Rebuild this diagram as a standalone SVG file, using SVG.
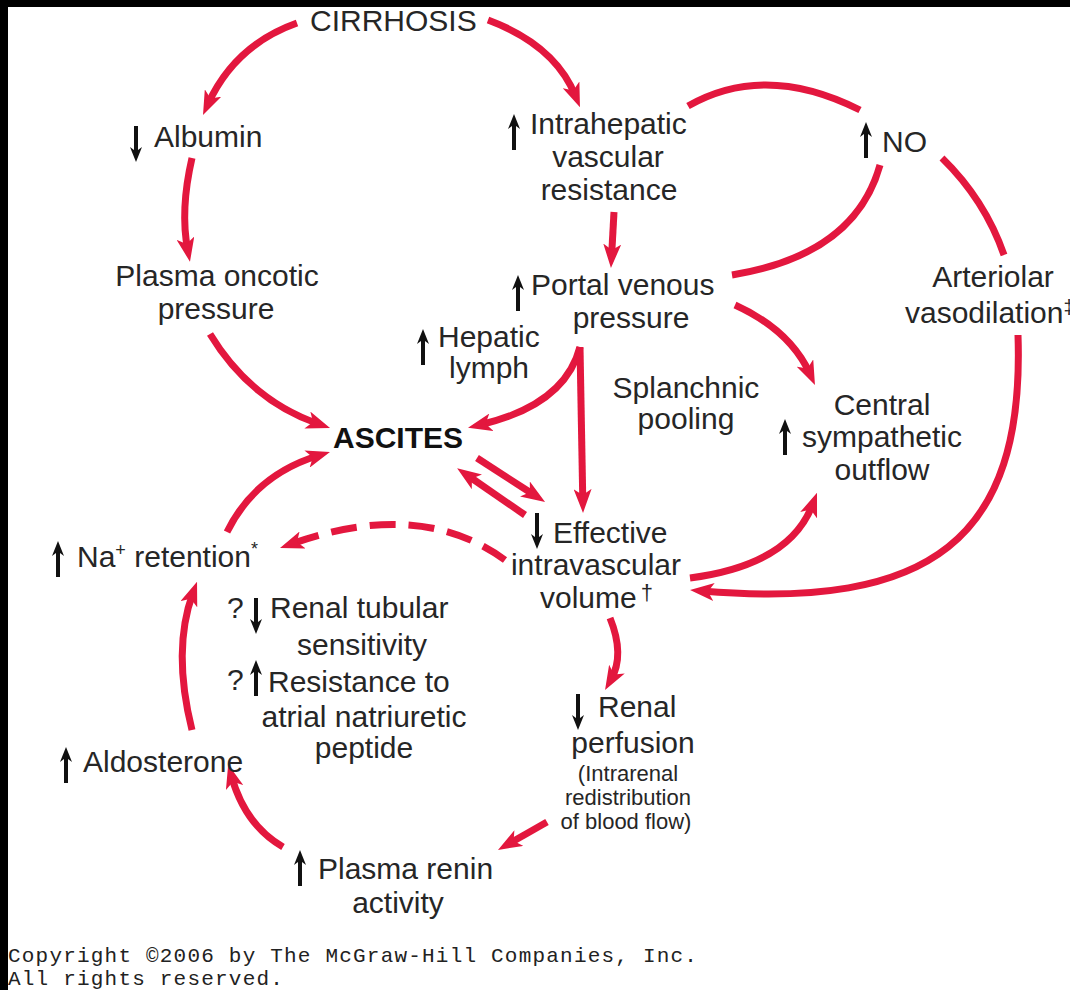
<svg xmlns="http://www.w3.org/2000/svg" xmlns:xlink="http://www.w3.org/1999/xlink" width="1070" height="990" viewBox="0 0 1070 990">
<style>
.t{font-family:"Liberation Sans",Arial,sans-serif;font-size:30px;fill:#262626}
.b{font-weight:bold;fill:#111}
.s{font-size:22px}
.m{text-anchor:middle}
.c{fill:none;stroke:#e3173e;stroke-width:7}
.d{stroke-dasharray:26 13}
.k{fill:#111}
.cp{font-family:"Liberation Mono","DejaVu Sans Mono",monospace;font-size:21px;letter-spacing:1.2px;fill:#222}
</style>
<defs>
<marker id="ah" viewBox="0 0 24 18" refX="12" refY="9" markerWidth="24" markerHeight="18" markerUnits="userSpaceOnUse" orient="auto">
<path d="M0,0 L24,9 L0,18 L6,9 Z" fill="#e3173e"/>
</marker>
<g id="ua"><path d="M0,-18 L6,-3 L2,-6 L2,18 L-2,18 L-2,-6 L-6,-3 Z"/></g>
<g id="da"><path d="M0,18 L6,3 L2,6 L2,-18 L-2,-18 L-2,6 L-6,3 Z"/></g>
</defs>
<rect x="0" y="0" width="1070" height="990" fill="#000"/>
<rect x="8" y="7" width="1062" height="983" fill="#fff"/>

<g id="connectors">
<path class="c" d="M297,23 Q235,45 208,104" marker-end="url(#ah)"/>
<path class="c" d="M488,20 Q555,45 575.5,96" marker-end="url(#ah)"/>
<path class="c" d="M192,158 Q180,210 187.7,250" marker-end="url(#ah)"/>
<path class="c" d="M210,334 Q250,400 318.7,424" marker-end="url(#ah)"/>
<path class="c" d="M614,212 L611.6,256" marker-end="url(#ah)"/>
<path class="c" d="M688,106 Q765,62 860,110"/>
<path class="c" d="M880,165 Q855,255 732,275"/>
<path class="c" d="M942,158 Q985,200 1004,255"/>
<path class="c" d="M1018,335 C1025,540 930,610 702,591" marker-end="url(#ah)"/>
<path class="c" d="M735,305 Q790,330 810,374" marker-end="url(#ah)"/>
<path class="c" d="M690,578 Q790,565 812.8,504" marker-end="url(#ah)"/>
<path class="c" d="M580,347 Q565,405 479.7,425" marker-end="url(#ah)"/>
<path class="c" d="M580,347 L582.8,501" marker-end="url(#ah)"/>
<path class="c" d="M477,458 L535,495.5" marker-end="url(#ah)"/>
<path class="c" d="M525,515 L467,475" marker-end="url(#ah)"/>
<path class="c d" d="M505,560 Q420,498 291.3,544" marker-end="url(#ah)"/>
<path class="c" d="M227,532 Q255,475 318.5,455.5" marker-end="url(#ah)"/>
<path class="c" d="M192,730 Q172,650 192.9,593" marker-end="url(#ah)"/>
<path class="c" d="M283,847 Q245,825 231.4,776" marker-end="url(#ah)"/>
<path class="c" d="M547,822 L508.4,844" marker-end="url(#ah)"/>
<path class="c" d="M610,618 Q625,655 611,679.6" marker-end="url(#ah)"/>
</g>

<g id="cirrhosis"><text class="t" x="310" y="31">CIRRHOSIS</text></g>
<g id="albumin"><use xlink:href="#da" class="k" transform="translate(136,144)"/><text class="t" x="154" y="147">Albumin</text></g>
<g id="intrahepatic"><use xlink:href="#ua" class="k" transform="translate(514,132)"/><text class="t" x="530" y="134">Intrahepatic</text><text class="t m" x="608" y="167">vascular</text><text class="t m" x="609" y="200">resistance</text></g>
<g id="no"><use xlink:href="#ua" class="k" transform="translate(866,140)"/><text class="t" x="882" y="152">NO</text></g>
<g id="oncotic"><text class="t m" x="217" y="286">Plasma oncotic</text><text class="t m" x="216" y="319">pressure</text></g>
<g id="portal"><use xlink:href="#ua" class="k" transform="translate(518,293)"/><text class="t" x="531" y="295">Portal venous</text><text class="t m" x="631" y="328">pressure</text></g>
<g id="arteriolar"><text class="t m" x="993" y="287">Arteriolar</text><text class="t" x="905" y="323">vasodilation<tspan font-size="20" dy="-9">‡</tspan></text></g>
<g id="hepatic"><use xlink:href="#ua" class="k" transform="translate(423,347)"/><text class="t" x="438" y="347">Hepatic</text><text class="t m" x="489" y="378">lymph</text></g>
<g id="splanchnic"><text class="t m" x="686" y="398">Splanchnic</text><text class="t m" x="686" y="429">pooling</text></g>
<g id="central"><text class="t m" x="882" y="415">Central</text><use xlink:href="#ua" class="k" transform="translate(785,437)"/><text class="t m" x="882" y="447">sympathetic</text><text class="t m" x="882" y="480">outflow</text></g>
<g id="ascites"><text class="t b" x="333" y="448">ASCITES</text></g>
<g id="effective"><use xlink:href="#da" class="k" transform="translate(537,531)"/><text class="t" x="553" y="543">Effective</text><text class="t m" x="596" y="575">intravascular</text><text class="t" x="540" y="608">volume<tspan font-size="22" dx="4" dy="-8">†</tspan></text></g>
<g id="na"><use xlink:href="#ua" class="k" transform="translate(58,559)"/><text class="t" x="77" y="567">Na<tspan font-size="18" dy="-11">+</tspan><tspan dy="11"> retention</tspan><tspan font-size="18" dy="-12">*</tspan></text></g>
<g id="tubular"><text class="t" x="227" y="618">?</text><use xlink:href="#da" class="k" transform="translate(256,616)"/><text class="t" x="270" y="618">Renal tubular</text><text class="t m" x="362" y="655">sensitivity</text></g>
<g id="anp"><text class="t" x="227" y="690">?</text><use xlink:href="#ua" class="k" transform="translate(256,678)"/><text class="t" x="268" y="692">Resistance to</text><text class="t m" x="364" y="727">atrial natriuretic</text><text class="t m" x="364" y="758">peptide</text></g>
<g id="aldosterone"><use xlink:href="#ua" class="k" transform="translate(66,765)"/><text class="t" x="83" y="772">Aldosterone</text></g>
<g id="renal"><use xlink:href="#da" class="k" transform="translate(578,712)"/><text class="t" x="598" y="717">Renal</text><text class="t m" x="633" y="753">perfusion</text><text class="t s m" x="628" y="781">(Intrarenal</text><text class="t s m" x="628" y="805">redistribution</text><text class="t s m" x="626" y="829">of blood flow)</text></g>
<g id="renin"><use xlink:href="#ua" class="k" transform="translate(300,868)"/><text class="t" x="318" y="879">Plasma renin</text><text class="t m" x="398" y="913">activity</text></g>
<g id="copyright"><text class="cp" x="8" y="962">Copyright ©2006 by The McGraw-Hill Companies, Inc.</text><text class="cp" x="8" y="985">All rights reserved.</text></g>
</svg>
